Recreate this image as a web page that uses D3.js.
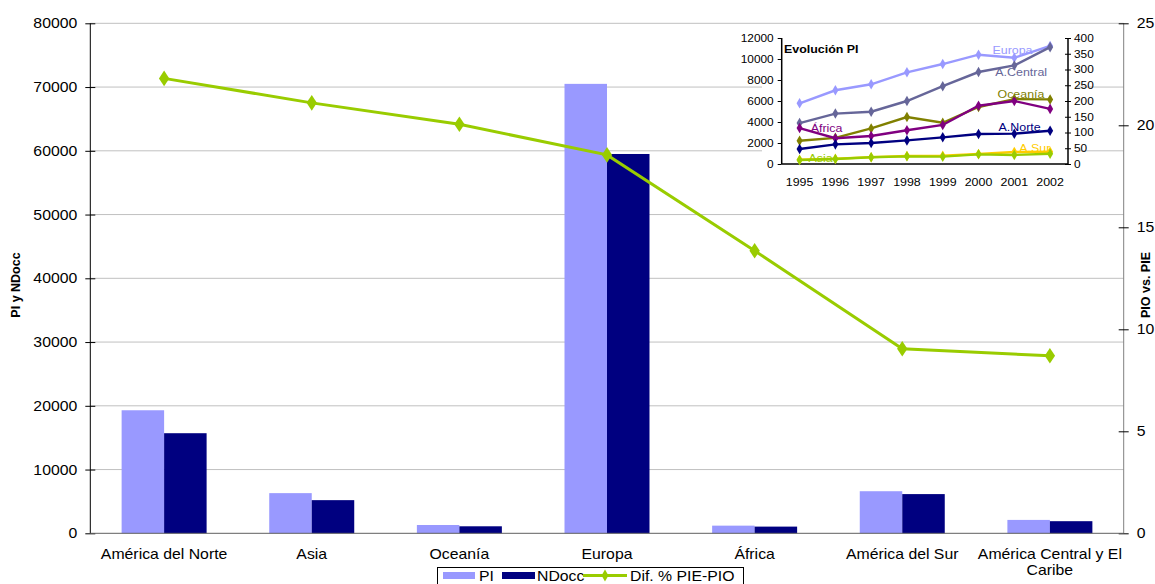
<!DOCTYPE html>
<html>
<head>
<meta charset="utf-8">
<script src="https://cdn.jsdelivr.net/npm/d3@7/dist/d3.min.js"></script>
<style>
  html, body { margin: 0; padding: 0; background: #fff; }
  svg { display: block; font-family: "Liberation Sans", Arial, sans-serif; }
</style>
</head>
<body>
<svg id="chart" width="1155" height="584"></svg>
<script>
// ---------- main chart data ----------
const categories = ["América del Norte", "Asia", "Oceanía", "Europa", "África", "América del Sur", "América Central y El Caribe"];
const piValues = [19300, 6300, 1300, 70500, 1200, 6600, 2100];
const ndoccValues = [15700, 5200, 1100, 59500, 1050, 6150, 1900];
const difValues = [22.3, 21.1, 20.05, 18.55, 13.85, 9.05, 8.7];
const leftTicks = [0, 10000, 20000, 30000, 40000, 50000, 60000, 70000, 80000];
const rightTicks = [0, 5, 10, 15, 20, 25];
const seriesNames = ["PI", "NDocc", "Dif. % PIE-PIO"];

// ---------- inset data ----------
const years = ["1995", "1996", "1997", "1998", "1999", "2000", "2001", "2002"];
const europa   = [5780, 7020, 7590, 8730, 9520, 10410, 10120, 11240];
const aCentral = [130, 160, 166, 200, 247, 292, 313, 371];   // right axis
const oceania  = [74, 83, 113, 149, 131, 181, 206, 205];     // right axis
const africa   = [114, 82, 89, 107, 124, 185, 200, 175];     // right axis
const aNorte   = [1430, 1870, 2000, 2250, 2540, 2860, 2890, 3170];
const aSur     = [400, 500, 650, 760, 780, 950, 1140, 1170];
const asia     = [380, 480, 640, 730, 700, 920, 860, 980];
const insetLeftTicks = [0, 2000, 4000, 6000, 8000, 10000, 12000];
const insetRightTicks = [0, 50, 100, 150, 200, 250, 300, 350, 400];

const COL_PI = "#9999FF", COL_ND = "#000080", COL_DIF = "#99CC00";
const SX = 1.13; // horizontal text stretch

const svg = d3.select("#chart");

function stretch(sel, s) {
  s = s || SX;
  sel.each(function () {
    const t = d3.select(this);
    const x = +t.attr("x") || 0, y = +t.attr("y") || 0;
    const prev = t.attr("transform") || "";
    t.attr("transform", prev + ` translate(${x},${y}) scale(${s},1) translate(${-x},${-y})`);
  });
}

// ---------- main scales ----------
const L = 90.3, R = 1123.7, T = 23.3, B = 533.3;
const x0 = d3.scaleBand().domain(categories).range([L, R]);
const x1 = d3.scaleBand().domain(["PI", "NDocc"]).range([0, x0.bandwidth()]).paddingOuter(0.737);
const yL = d3.scaleLinear().domain([0, 80000]).range([B, T]);
const yR = d3.scaleLinear().domain([0, 25]).range([B, T]);

// gridlines
svg.append("g").selectAll("line").data(leftTicks.filter(d => d > 0)).join("line")
  .attr("x1", L).attr("x2", R).attr("y1", d => yL(d)).attr("y2", d => yL(d))
  .attr("stroke", "#c0c0c0").attr("stroke-width", 1);

// bars
const bars = svg.append("g");
bars.selectAll("rect.pi").data(categories).join("rect").attr("class", "pi")
  .attr("x", d => x0(d) + x1("PI")).attr("width", x1.bandwidth())
  .attr("y", (d, i) => yL(piValues[i])).attr("height", (d, i) => B - yL(piValues[i]))
  .attr("fill", COL_PI);
bars.selectAll("rect.nd").data(categories).join("rect").attr("class", "nd")
  .attr("x", d => x0(d) + x1("NDocc")).attr("width", x1.bandwidth())
  .attr("y", (d, i) => yL(ndoccValues[i])).attr("height", (d, i) => B - yL(ndoccValues[i]))
  .attr("fill", COL_ND);

// axes
const axL = svg.append("g").attr("transform", `translate(${L},0)`)
  .call(d3.axisLeft(yL).tickValues(leftTicks).tickFormat(d3.format("d")).tickSize(5).tickPadding(8));
axL.select(".domain").attr("stroke", "#000").attr("d", `M0,${T}V${B}`);
axL.selectAll(".tick line").attr("x2", -5).attr("x1", 5).attr("stroke", "#000");
axL.selectAll("text").attr("font-size", 14).attr("fill", "#000").attr("font-family", "Liberation Sans, Arial");
stretch(axL.selectAll("text"));

const axR = svg.append("g").attr("transform", `translate(${R},0)`)
  .call(d3.axisRight(yR).tickValues(rightTicks).tickSize(5).tickPadding(8));
axR.select(".domain").attr("stroke", "#808080").attr("d", `M0,${T}V${B}`);
axR.selectAll(".tick line").attr("x1", -5).attr("x2", 5).attr("stroke", "#000");
axR.selectAll("text").attr("font-size", 14).attr("fill", "#000").attr("font-family", "Liberation Sans, Arial");
stretch(axR.selectAll("text"));

// bottom axis line
svg.append("line").attr("x1", L).attr("x2", R).attr("y1", B).attr("y2", B)
  .attr("stroke", "#606060").attr("stroke-width", 1);

// category labels
const catG = svg.append("g").attr("font-size", 14).attr("fill", "#000");
categories.forEach((c, i) => {
  const cx = x0(c) + x0.bandwidth() / 2;
  const lines = c === "América Central y El Caribe" ? ["América Central y El", "Caribe"] : [c];
  lines.forEach((ln, j) => {
    const t = catG.append("text").attr("x", cx).attr("y", 559 + j * 16)
      .attr("text-anchor", "middle").text(ln);
    stretch(t);
  });
});

// line series
const px = (d, i) => x0(categories[i]) + x0.bandwidth() / 2;
svg.append("path").datum(difValues)
  .attr("d", d3.line().x(px).y(d => yR(d)))
  .attr("fill", "none").attr("stroke", COL_DIF).attr("stroke-width", 3);
svg.append("g").selectAll("path").data(difValues).join("path")
  .attr("transform", (d, i) => `translate(${px(d, i)},${yR(d)}) scale(1.15,1)`)
  .attr("d", d3.symbol(d3.symbolDiamond, 70)())
  .attr("fill", COL_DIF);

// axis titles
svg.append("text").attr("transform", "translate(20,285) rotate(-90)")
  .attr("text-anchor", "middle").attr("font-size", 12.5).attr("font-weight", "bold").text("PI y NDocc");
svg.append("text").attr("transform", "translate(1150,285) rotate(-90)")
  .attr("text-anchor", "middle").attr("font-size", 12.5).attr("font-weight", "bold").text("PIO vs. PIE");

// legend
const lg = svg.append("g");
lg.append("rect").attr("x", 437.5).attr("y", 567.5).attr("width", 306).attr("height", 24)
  .attr("fill", "#fff").attr("stroke", "#000");
lg.append("rect").attr("x", 443).attr("y", 572).attr("width", 32).attr("height", 7).attr("fill", COL_PI);
stretch(lg.append("text").attr("x", 479).attr("y", 581).attr("font-size", 14).text(seriesNames[0]));
lg.append("rect").attr("x", 502).attr("y", 572).attr("width", 33).attr("height", 7).attr("fill", COL_ND);
stretch(lg.append("text").attr("x", 537).attr("y", 581).attr("font-size", 14).text(seriesNames[1]));
lg.append("line").attr("x1", 583).attr("x2", 627).attr("y1", 575.5).attr("y2", 575.5)
  .attr("stroke", COL_DIF).attr("stroke-width", 3);
lg.append("path").attr("transform", "translate(605,575.5)").attr("d", d3.symbol(d3.symbolDiamond, 40)()).attr("fill", COL_DIF);
stretch(lg.append("text").attr("x", 630).attr("y", 581).attr("font-size", 14).text(seriesNames[2]));

// ---------- inset ----------
const iL = 781.7, iR = 1068, iT = 38, iB = 164;
const ins = svg.append("g");
ins.append("rect").attr("x", 762).attr("y", 29).attr("width", 313).attr("height", 163).attr("fill", "#fff");
const xi = d3.scaleBand().domain(years).range([iL, iR]);
const xc = d => xi(d) + xi.bandwidth() / 2;
const xIdx = d3.scaleLinear().domain([0, 7]).range([xc(years[0]), xc(years[7])]);
const yiL = d3.scaleLinear().domain([0, 12000]).range([iB, iT]);
const yiR = d3.scaleLinear().domain([0, 400]).range([iB, iT]);

const aiL = ins.append("g").attr("transform", `translate(${iL},0)`)
  .call(d3.axisLeft(yiL).tickValues(insetLeftTicks).tickFormat(d3.format("d")).tickSize(4).tickPadding(4));
aiL.select(".domain").attr("stroke", "#000").attr("stroke-width", 1.5).attr("d", `M0,${iT}V${iB}`);
aiL.selectAll(".tick line").attr("stroke", "#000");
aiL.selectAll("text").attr("font-size", 10.5).attr("fill", "#000").attr("font-family", "Liberation Sans, Arial");
stretch(aiL.selectAll("text"));

const aiR = ins.append("g").attr("transform", `translate(${iR},0)`)
  .call(d3.axisRight(yiR).tickValues(insetRightTicks).tickSize(3).tickPadding(3));
aiR.select(".domain").attr("stroke", "#000").attr("stroke-width", 1.5).attr("d", `M0,${iT}V${iB}`);
aiR.selectAll(".tick line").attr("x1", -3).attr("x2", 3).attr("stroke", "#000");
aiR.selectAll("text").attr("font-size", 10.5).attr("fill", "#000").attr("font-family", "Liberation Sans, Arial");
stretch(aiR.selectAll("text"));

ins.append("line").attr("x1", iL).attr("x2", iR).attr("y1", iB).attr("y2", iB).attr("stroke", "#000").attr("stroke-width", 1.5);
years.forEach(yv => {
  stretch(ins.append("text").attr("x", xc(yv)).attr("y", 186).attr("text-anchor", "middle")
    .attr("font-size", 11).text(yv));
});

stretch(ins.append("text").attr("x", 784).attr("y", 53).attr("font-size", 11).attr("font-weight", "bold").text("Evolución PI"));

const insetSeries = [
  { name: "Europa", vals: europa, scale: yiL, color: "#9999FF", lx: 5.39, lv: 10476 },
  { name: "A.Central", vals: aCentral, scale: yiR, color: "#666699", lx: 5.47, lv: 8380 },
  { name: "Oceanía", vals: oceania, scale: yiR, color: "#808000", lx: 5.53, lv: 6286 },
  { name: "África", vals: africa, scale: yiR, color: "#800080", lx: 0.31, lv: 3048 },
  { name: "A.Norte", vals: aNorte, scale: yiL, color: "#000080", lx: 5.56, lv: 3143 },
  { name: "A.Sur", vals: aSur, scale: yiL, color: "#FFCC00", lx: 6.14, lv: 1143 },
  { name: "Asia", vals: asia, scale: yiL, color: "#99CC00", lx: 0.25, lv: 190 }
];
insetSeries.forEach(s => {
  ins.append("path").datum(s.vals)
    .attr("d", d3.line().x((d, i) => xc(years[i])).y(d => s.scale(d)))
    .attr("fill", "none").attr("stroke", s.color).attr("stroke-width", 2.4);
  ins.append("g").selectAll("path").data(s.vals).join("path")
    .attr("transform", (d, i) => `translate(${xc(years[i])},${s.scale(d)})`)
    .attr("d", d3.symbol(d3.symbolDiamond, 32)()).attr("fill", s.color);
});
insetSeries.forEach(s => {
  stretch(ins.append("text").attr("x", xIdx(s.lx)).attr("y", yiL(s.lv))
    .attr("font-size", 11).attr("fill", s.color).text(s.name));
});
</script>
</body>
</html>
